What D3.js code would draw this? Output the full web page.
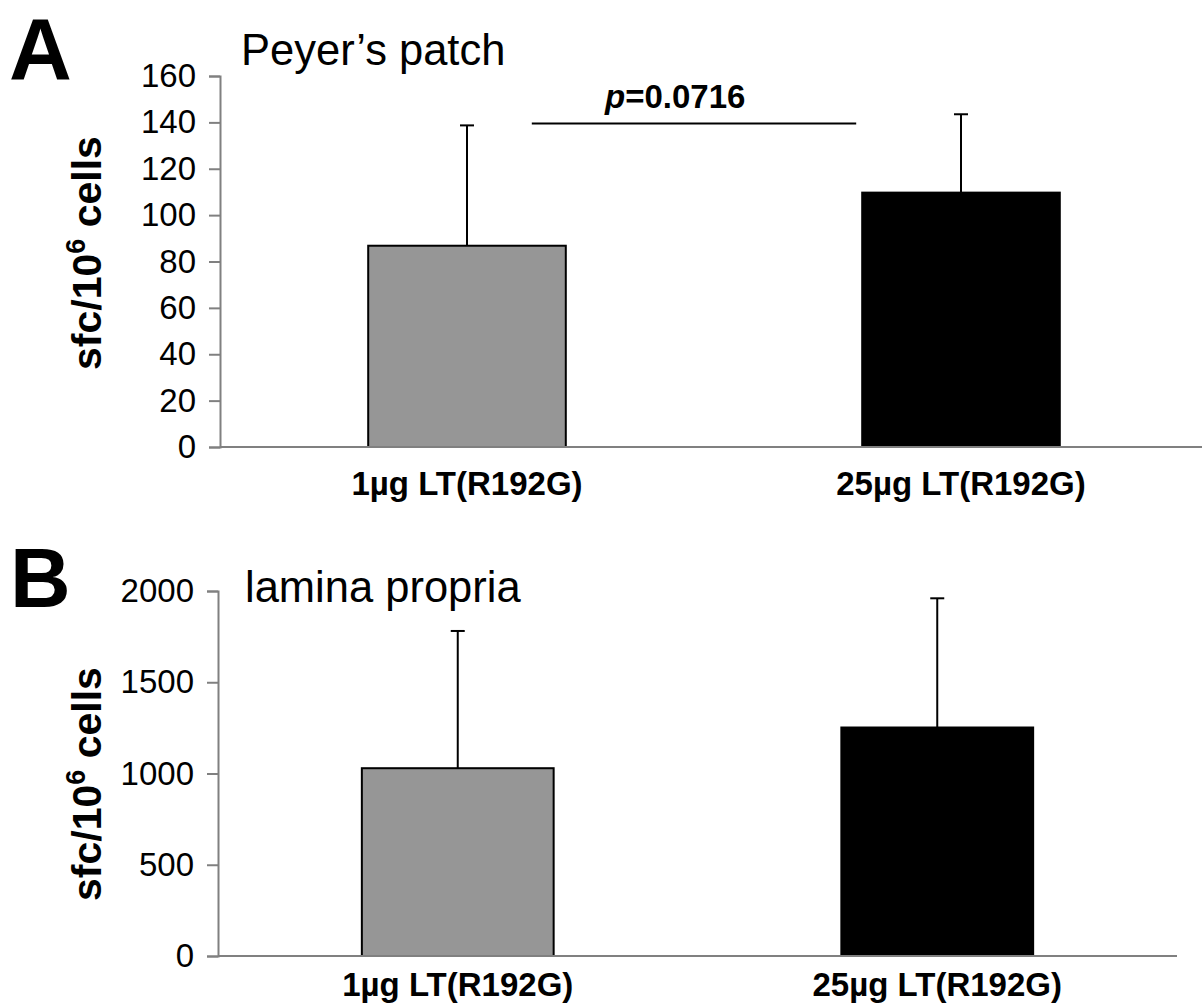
<!DOCTYPE html>
<html>
<head>
<meta charset="utf-8">
<script src="https://cdn.jsdelivr.net/npm/d3@7"></script>
<style>
  body { margin: 0; background: #fff; }
  svg text { font-family: "Liberation Sans", Arial, sans-serif; }
</style>
</head>
<body>
<div id="chart"></div>
<script>
// values
var categories = ["1µg LT(R192G)", "25µg LT(R192G)"];
var barColors = ["#969696", "#000000"];

var peyerMeans = [86.8, 109.7];
var peyerErrors = [51.9, 33.8];
var peyerTicks = [0, 20, 40, 60, 80, 100, 120, 140, 160];

var laminaMeans = [1029, 1252];
var laminaErrors = [752, 708];
var laminaTicks = [0, 500, 1000, 1500, 2000];

var pValueLabel = "0.0716";
var pValueLevel = 139.5;

var svg = d3.select("#chart")
	.append("svg")
	.attr("width", 1202)
	.attr("height", 1008);

function drawPanel(opt) {
	var g = svg.append("g");

	var xScale = d3.scaleBand()
		.domain(categories)
		.range([opt.left, opt.right])
		.paddingInner(0.6)
		.paddingOuter(0.3);

	var yScale = d3.scaleLinear()
		.domain([0, opt.ticks[opt.ticks.length - 1]])
		.range([opt.bottom, opt.top]);

	var rows = categories.map(function(c, i){
		return {cat: c, mean: opt.means[i], err: opt.errors[i], color: barColors[i]};
	});

	// bars
	g.selectAll(".bar")
		.data(rows)
		.enter().append("rect")
		.attr("class", "bar")
		.attr("x", function(d){ return xScale(d.cat) })
		.attr("width", xScale.bandwidth())
		.attr("y", function(d){ return yScale(d.mean) })
		.attr("height", function(d){ return yScale(0) - yScale(d.mean) })
		.attr("fill", function(d){ return d.color })
		.attr("stroke", "#000")
		.attr("stroke-width", 2);

	// error bars (upper only)
	g.selectAll(".err")
		.data(rows)
		.enter().append("line")
		.attr("class", "err")
		.attr("x1", function(d){ return xScale(d.cat) + xScale.bandwidth() / 2 })
		.attr("x2", function(d){ return xScale(d.cat) + xScale.bandwidth() / 2 })
		.attr("y1", function(d){ return yScale(d.mean) })
		.attr("y2", function(d){ return yScale(d.mean + d.err) })
		.attr("stroke", "#000")
		.attr("stroke-width", 2);

	g.selectAll(".cap")
		.data(rows)
		.enter().append("line")
		.attr("class", "cap")
		.attr("x1", function(d){ return xScale(d.cat) + xScale.bandwidth() / 2 - 7 })
		.attr("x2", function(d){ return xScale(d.cat) + xScale.bandwidth() / 2 + 7 })
		.attr("y1", function(d){ return yScale(d.mean + d.err) })
		.attr("y2", function(d){ return yScale(d.mean + d.err) })
		.attr("stroke", "#000")
		.attr("stroke-width", 2);

	// y axis
	var yAxis = g.append("g")
		.attr("transform", "translate(" + opt.left + ",0)")
		.call(d3.axisLeft(yScale)
			.tickValues(opt.ticks)
			.tickFormat(d3.format("d"))
			.tickSize(11)
			.tickPadding(13));
	yAxis.select(".domain").attr("stroke", "#808080").attr("stroke-width", 2);
	yAxis.selectAll(".tick line").attr("stroke", "#808080").attr("stroke-width", 2);
	yAxis.selectAll(".tick text")
		.attr("font-size", "33px")
		.attr("font-family", "Liberation Sans, Arial, sans-serif")
		.attr("fill", "#000");

	// x axis line
	g.append("line")
		.attr("x1", opt.left)
		.attr("x2", opt.right)
		.attr("y1", yScale(0))
		.attr("y2", yScale(0))
		.attr("stroke", "#808080")
		.attr("stroke-width", 2);

	// category labels
	g.selectAll(".cat_label")
		.data(categories)
		.enter().append("text")
		.attr("class", "cat_label")
		.attr("x", function(d){ return xScale(d) + xScale.bandwidth() / 2 })
		.attr("y", opt.labelY)
		.attr("text-anchor", "middle")
		.attr("font-size", "33px")
		.attr("font-weight", "bold")
		.text(function(d){ return d });

	// y axis title
	var yt = g.append("text")
		.attr("transform", "translate(101," + opt.titleMid + ") rotate(-90)")
		.attr("text-anchor", "middle")
		.attr("font-size", "41px")
		.attr("font-weight", "bold");
	yt.append("tspan").text("sfc/10");
	yt.append("tspan").attr("font-size", "27px").attr("dy", -16).text("6");
	yt.append("tspan").attr("dy", 16).text(" cells");

	// panel title
	g.append("text")
		.attr("x", opt.titleX)
		.attr("y", opt.titleY)
		.attr("font-size", "43.5px")
		.text(opt.title);

	// panel letter
	g.append("text")
		.attr("x", opt.letterX)
		.attr("y", opt.letterY)
		.attr("font-size", opt.letterSize)
		.attr("font-weight", "bold")
		.text(opt.letter);

	return {x: xScale, y: yScale, g: g};
}

var panelA = drawPanel({
	means: peyerMeans, errors: peyerErrors, ticks: peyerTicks,
	left: 220, right: 1208, top: 76, bottom: 447,
	labelY: 495, titleMid: 253,
	title: "Peyer\u2019s patch", titleX: 241, titleY: 65,
	letter: "A", letterX: 9, letterY: 79, letterSize: "87px"
});

var panelB = drawPanel({
	means: laminaMeans, errors: laminaErrors, ticks: laminaTicks,
	left: 218, right: 1177, top: 591, bottom: 956,
	labelY: 996, titleMid: 784,
	title: "lamina propria", titleX: 245, titleY: 602,
	letter: "B", letterX: 10, letterY: 607, letterSize: "84px"
});

// significance line for panel A
var pLineY = panelA.y(pValueLevel);
var x1 = panelA.x(categories[0]) + panelA.x.bandwidth() - 34;
var x2 = panelA.x(categories[1]) - 6;
panelA.g.append("line")
	.attr("x1", x1)
	.attr("x2", x2)
	.attr("y1", pLineY)
	.attr("y2", pLineY)
	.attr("stroke", "#000")
	.attr("stroke-width", 2);

var pText = panelA.g.append("text")
	.attr("x", 605)
	.attr("y", pLineY - 16)
	.attr("font-size", "33px")
	.attr("font-weight", "bold");
pText.append("tspan").attr("font-style", "italic").text("p");
pText.append("tspan").text("=" + pValueLabel);
</script>
</body>
</html>
